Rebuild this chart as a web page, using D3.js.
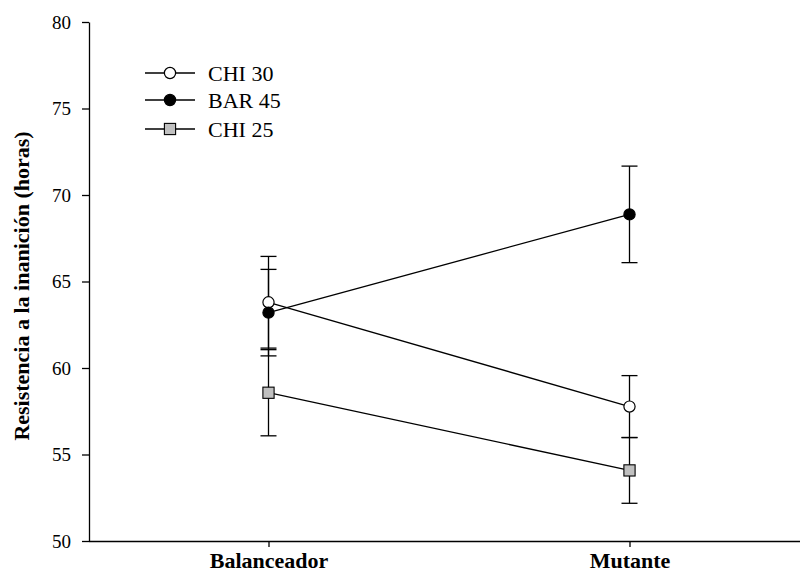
<!DOCTYPE html>
<html>
<head>
<meta charset="utf-8">
<script src="https://cdn.jsdelivr.net/npm/d3@7"></script>
<style>
  html, body { margin: 0; padding: 0; background: #fff; }
  svg { display: block; font-family: "Liberation Serif", "Times New Roman", serif; }
</style>
</head>
<body>
<svg id="chart" width="800" height="574"></svg>
<script>
// Starvation resistance (hours) by genotype, three lines
const categories = ["Balanceador", "Mutante"];
const seriesNames = ["CHI 30", "BAR 45", "CHI 25"];
const chi30 = [63.80, 57.77];
const chi30Err = [2.65, 1.79];
const bar45 = [63.20, 68.88];
const bar45Err = [2.50, 2.79];
const chi25 = [58.57, 54.08];
const chi25Err = [2.49, 1.90];
const yTicks = [50, 55, 60, 65, 70, 75, 80];
const yTitle = "Resistencia a la inanición (horas)";

const series = [
  { name: seriesNames[0], values: chi30, err: chi30Err, shape: "circle", fill: "#ffffff" },
  { name: seriesNames[1], values: bar45, err: bar45Err, shape: "circle", fill: "#000000" },
  { name: seriesNames[2], values: chi25, err: chi25Err, shape: "square", fill: "#c0c0c0" }
];

const svg = d3.select("#chart");
const plotLeft = 89, plotBottom = 541, plotTop = 22;

const x = d3.scalePoint().domain(categories).range([88, 810]).padding(0.5);
const y = d3.scaleLinear().domain([50, 80]).range([plotBottom, plotTop]);

// Axes
const yAxis = svg.append("g")
  .attr("transform", `translate(${plotLeft},0)`)
  .call(d3.axisLeft(y).tickValues(yTicks).tickSize(7).tickSizeOuter(0).tickPadding(11));
yAxis.selectAll("text").attr("font-size", 19).attr("font-family", "Liberation Serif").attr("fill", "#000");
yAxis.selectAll("line, path").attr("stroke", "#000").attr("stroke-width", 1.3);

const xAxis = svg.append("g")
  .attr("transform", `translate(0,${plotBottom})`)
  .call(d3.axisBottom(x).tickSize(6).tickSizeOuter(0));
xAxis.select("path").attr("d", `M${plotLeft},0.5H810`);
xAxis.selectAll("line, path").attr("stroke", "#000").attr("stroke-width", 1.3);
xAxis.selectAll("text")
  .attr("y", 27).attr("dy", 0)
  .attr("font-size", 22).attr("font-weight", "bold")
  .attr("font-family", "Liberation Serif").attr("fill", "#000");

// Y axis title
svg.append("text")
  .attr("transform", `translate(29,286) rotate(-90)`)
  .attr("text-anchor", "middle")
  .attr("font-size", 22).attr("font-weight", "bold")
  .text(yTitle);

const line = d3.line().x((d, i) => x(categories[i])).y(d => y(d));
const capHalf = 8;

function drawMarker(g, shape, fill, cx, cy) {
  if (shape === "circle") {
    g.append("circle").attr("cx", cx).attr("cy", cy).attr("r", 5.6)
      .attr("fill", fill).attr("stroke", "#000").attr("stroke-width", 1.2);
  } else {
    g.append("rect").attr("x", cx - 5.6).attr("y", cy - 5.6).attr("width", 11.2).attr("height", 11.2)
      .attr("fill", fill).attr("stroke", "#000").attr("stroke-width", 1.1);
  }
}

// Connecting lines
const lines = svg.append("g");
series.forEach(s => {
  lines.append("path").attr("d", line(s.values))
    .attr("fill", "none").attr("stroke", "#000").attr("stroke-width", 1.3);
});

// Error bars
const errs = svg.append("g").attr("stroke", "#000").attr("stroke-width", 1.3);
series.forEach(s => {
  s.values.forEach((v, i) => {
    const cx = x(categories[i]);
    const y1 = y(v + s.err[i]), y0 = y(v - s.err[i]);
    errs.append("line").attr("x1", cx).attr("x2", cx).attr("y1", y1).attr("y2", y0);
    [y1, y0].forEach(yy => {
      errs.append("line").attr("x1", cx - capHalf).attr("x2", cx + capHalf).attr("y1", yy).attr("y2", yy);
    });
  });
});

// Markers
const marks = svg.append("g");
series.forEach(s => {
  s.values.forEach((v, i) => drawMarker(marks, s.shape, s.fill, x(categories[i]), y(v)));
});

// Legend
const legend = svg.append("g");
const legendRows = [73, 100, 129];
series.forEach((s, i) => {
  const ly = legendRows[i];
  legend.append("line").attr("x1", 145).attr("x2", 195).attr("y1", ly).attr("y2", ly)
    .attr("stroke", "#000").attr("stroke-width", 1.3);
  drawMarker(legend, s.shape, s.fill, 170, ly);
  legend.append("text").attr("x", 208).attr("y", ly).attr("dy", "0.35em")
    .attr("font-size", 22).text(s.name);
});
</script>
</body>
</html>
